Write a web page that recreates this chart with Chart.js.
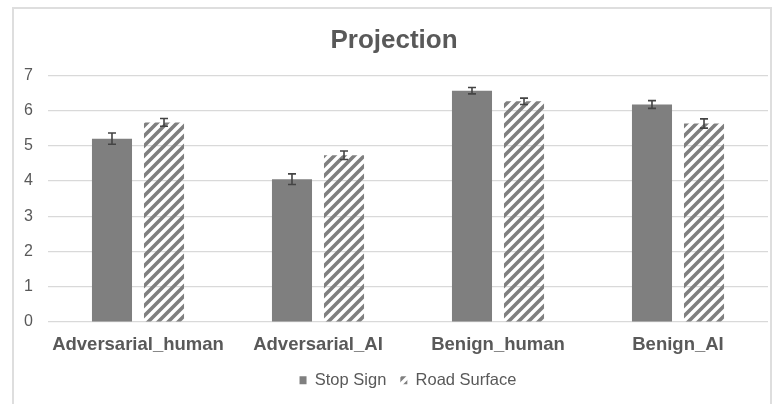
<!DOCTYPE html>
<html>
<head>
<meta charset="utf-8">
<script src="https://cdn.jsdelivr.net/npm/chart.js@4"></script>
<style>
  body { margin: 0; background: #fff; }
  #wrap { position: relative; width: 778px; height: 404px; overflow: hidden; }
  #frame { position: absolute; left: 12px; top: 7px; width: 756px; height: 420px; border: 2px solid #dedede; }
  #chart-box { position: absolute; left: 0; top: 0; width: 778px; height: 404px; }
</style>
</head>
<body>
<div id="wrap">
  <div id="frame"></div>
  <div id="chart-box"><canvas id="projChart"></canvas></div>
</div>
<script>
// data
const categories = ['Adversarial_human', 'Adversarial_AI', 'Benign_human', 'Benign_AI'];
const stopSign = [5.2, 4.05, 6.56, 6.17];
const roadSurface = [5.66, 4.73, 6.26, 5.63];
const stopSignErr = [0.16, 0.15, 0.09, 0.11];
const roadSurfaceErr = [0.11, 0.12, 0.09, 0.13];
const yTicks = [0, 1, 2, 3, 4, 5, 6, 7];

const textGray = '#595959';
const barGray = '#7f7f7f';

// diagonal hatch for the second series
function makeHatch() {
  const c = document.createElement('canvas');
  c.width = 10; c.height = 10;
  const g = c.getContext('2d');
  g.strokeStyle = barGray;
  g.lineWidth = 3.6;
  g.beginPath();
  g.moveTo(-2, 12); g.lineTo(12, -2);
  g.moveTo(-2, 2); g.lineTo(2, -2);
  g.moveTo(8, 12); g.lineTo(12, 8);
  g.stroke();
  return g.createPattern(c, 'repeat');
}

// error bars drawn on top of the bars
const errorBars = {
  id: 'errorBars',
  afterDatasetsDraw(chart) {
    const ctx = chart.ctx;
    const yScale = chart.scales.y;
    const errs = [stopSignErr, roadSurfaceErr];
    ctx.save();
    ctx.strokeStyle = '#444';
    ctx.lineWidth = 1.6;
    chart.data.datasets.forEach((ds, di) => {
      const meta = chart.getDatasetMeta(di);
      meta.data.forEach((bar, i) => {
        const v = ds.data[i], e = errs[di][i];
        const yTop = yScale.getPixelForValue(v + e);
        const yBot = yScale.getPixelForValue(v - e);
        const x = bar.x;
        ctx.beginPath();
        ctx.moveTo(x, yTop); ctx.lineTo(x, yBot);
        ctx.moveTo(x - 4, yTop); ctx.lineTo(x + 4, yTop);
        ctx.moveTo(x - 4, yBot); ctx.lineTo(x + 4, yBot);
        ctx.stroke();
      });
    });
    ctx.restore();
  }
};

const ctx = document.getElementById('projChart').getContext('2d');
new Chart(ctx, {
  type: 'bar',
  data: {
    labels: categories,
    datasets: [
      { label: 'Stop Sign', data: stopSign, backgroundColor: barGray,
        barPercentage: 0.77, categoryPercentage: 0.578 },
      { label: 'Road Surface', data: roadSurface, backgroundColor: makeHatch(),
        barPercentage: 0.77, categoryPercentage: 0.578 }
    ]
  },
  options: {
    responsive: true,
    maintainAspectRatio: false,
    animation: false,
    layout: { padding: { left: 20, right: 10, top: 0, bottom: 5.5 } },
    scales: {
      y: {
        min: 0, max: 7,
        afterFit: s => { s.width = 28; },
        afterBuildTicks: s => { s.ticks = yTicks.map(v => ({ value: v })); },
        ticks: { color: textGray, padding: 15, font: { family: 'Liberation Sans, Arial', size: 16 } },
        grid: { color: '#d9d9d9', lineWidth: 1.2, drawTicks: false },
        border: { display: false }
      },
      x: {
        afterFit: s => { s.height = 36; },
        ticks: { color: textGray, padding: 13, font: { family: 'Liberation Sans, Arial', size: 18.5, weight: 'bold', lineHeight: 1.1 } },
        grid: { display: false, drawTicks: false },
        border: { display: false }
      }
    },
    plugins: {
      title: {
        display: true,
        text: 'Projection',
        color: textGray,
        font: { family: 'Liberation Sans, Arial', size: 26, weight: 'bold', lineHeight: 1.2 },
        padding: { top: 25, bottom: 19 }
      },
      legend: {
        position: 'bottom',
        fullSize: false,
        labels: {
          color: textGray,
          boxWidth: 7,
          boxHeight: 8,
          padding: 14,
          font: { family: 'Liberation Sans, Arial', size: 16.5 }
        }
      },
      tooltip: { enabled: false }
    }
  },
  plugins: [errorBars]
});
</script>
</body>
</html>
